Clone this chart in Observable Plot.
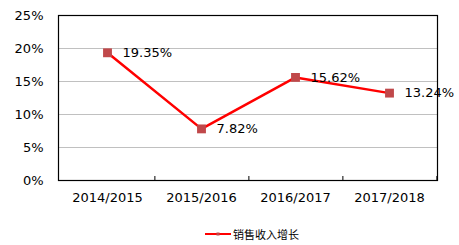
<!DOCTYPE html>
<html><head><meta charset="utf-8">
<script src="https://cdn.jsdelivr.net/npm/d3@7"></script>
<script src="https://cdn.jsdelivr.net/npm/@observablehq/plot@0.6"></script>
<style>
html,body{margin:0;padding:0;background:#fff;}
#wrap{width:459px;position:relative;font-family:"DejaVu Sans",Verdana,sans-serif;}
#legend{height:23px;position:relative;}
#legend .item{position:absolute;left:205px;top:5px;display:flex;align-items:center;font-family:"Noto Sans CJK SC",sans-serif;font-size:11px;line-height:14px;color:#000;}
</style>
</head><body>
<div id="wrap"><div id="chart"></div><div id="legend"></div></div>
<script>
const years = ["2014/2015", "2015/2016", "2016/2017", "2017/2018"];
const growth = [19.35, 7.82, 15.62, 13.24];
const yTicks = [0, 5, 10, 15, 20, 25];
const seriesName = "销售收入增长";

const data = years.map((y, i) => ({year: y, value: growth[i]}));
const W = 459, H = 222, ML = 58, MR = 22, MT = 15, MB = 42;
const half = (W - ML - MR) / years.length / 2;
const lineColor = "#ff0000", markColor = "#c0484a";

const chart = Plot.plot({
  width: W, height: H,
  marginLeft: ML, marginRight: MR, marginTop: MT, marginBottom: MB,
  style: {fontFamily: "DejaVu Sans, Verdana, sans-serif", fontSize: "13px", background: "#fff", color: "#000", overflow: "visible"},
  x: {type: "point", domain: years, padding: 0.5},
  y: {domain: [0, 25]},
  marks: [
    Plot.gridY(yTicks, {stroke: "#c0c0c0", strokeOpacity: 1}),
    Plot.axisY(yTicks, {tickSize: 0, tickPadding: 15, tickFormat: d => d + "%", fontSize: 13, label: null}),
    Plot.axisX({tickSize: 0, tickPadding: 12, fontSize: 13, label: null}),
    Plot.axisX({tickSize: -4, tickFormat: () => "", dx: half, label: null, stroke: "#000"}),
    Plot.frame({stroke: "#000", strokeWidth: 1.2}),
    Plot.line(data, {x: "year", y: "value", stroke: lineColor, strokeWidth: 2.5}),
    Plot.dot(data, {x: "year", y: "value", symbol: "square", r: 5, fill: markColor, stroke: "none"}),
    Plot.text(data, {x: "year", y: "value", text: d => d.value.toFixed(2) + "%", textAnchor: "start", dx: 15, fontSize: 13, fill: "#000"})
  ]
});
document.getElementById("chart").appendChild(chart);

const leg = document.getElementById("legend");
const item = document.createElement("div");
item.className = "item";
item.innerHTML = `<svg width="27" height="8" style="margin-right:1px"><line x1="0" y1="4" x2="26" y2="4" stroke="${lineColor}" stroke-width="2"/><rect x="11.5" y="2.5" width="3" height="3" fill="${markColor}"/></svg><span>${seriesName}</span>`;
leg.appendChild(item);
</script>
</body></html>
